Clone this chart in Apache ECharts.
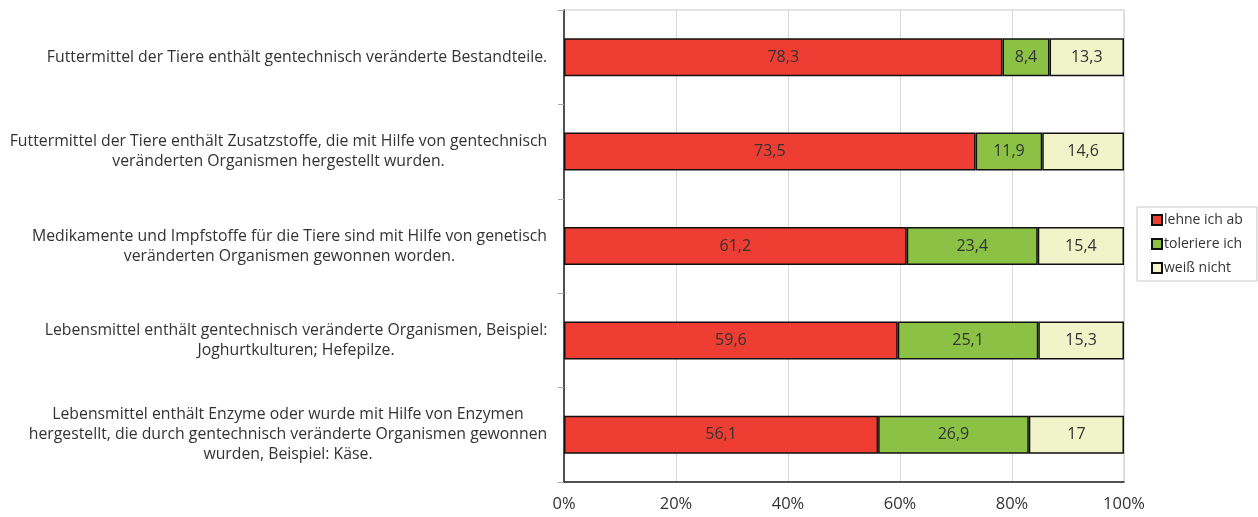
<!DOCTYPE html>
<html>
<head>
<meta charset="utf-8">
<script src="https://cdn.jsdelivr.net/npm/echarts@6/dist/echarts.min.js"></script>
<style>
  html, body { margin: 0; padding: 0; background: #fff; }
  #chart { width: 1258px; height: 517px; }
</style>
</head>
<body>
<div id="chart"></div>
<script>
// categories (top to bottom)
const categories = [
  'Futtermittel der Tiere enthält gentechnisch veränderte Bestandteile.',
  'Futtermittel der Tiere enthält Zusatzstoffe, die mit Hilfe von gentechnisch\nveränderten Organismen hergestellt wurden.',
  'Medikamente und Impfstoffe für die Tiere sind mit Hilfe von genetisch\nveränderten Organismen gewonnen worden.',
  'Lebensmittel enthält gentechnisch veränderte Organismen, Beispiel:\nJoghurtkulturen; Hefepilze.',
  'Lebensmittel enthält Enzyme oder wurde mit Hilfe von Enzymen\nhergestellt, die durch gentechnisch veränderte Organismen gewonnen\nwurden, Beispiel: Käse.'
]
const lehneAb = [78.3, 73.5, 61.2, 59.6, 56.1]
const toleriere = [8.4, 11.9, 23.4, 25.1, 26.9]
const weissNicht = [13.3, 14.6, 15.4, 15.3, 17]
const xTicks = [0, 20, 40, 60, 80, 100]

const chart = echarts.init(document.getElementById('chart'))
const font = '"Open Sans", "Noto Sans", sans-serif'
const labelSize = 15.8

// each label block is as wide as its longest line, lines centred inside
const ctx = document.createElement('canvas').getContext('2d')
ctx.font = labelSize + 'px ' + font
const rich = {}
categories.forEach((c, i) => {
  const w = Math.max(...c.split('\n').map(s => ctx.measureText(s).width))
  rich['l' + i] = {
    width: Math.ceil(w) + 1,
    align: 'center',
    fontSize: labelSize,
    lineHeight: 20,
    color: '#333',
    fontFamily: font
  }
})

function barSeries (name, data, color) {
  return {
    name,
    type: 'bar',
    stack: 'total',
    barWidth: 38,
    data,
    itemStyle: {
      color,
      borderColor: '#111',
      borderWidth: 1.5
    },
    label: {
      show: true,
      position: 'inside',
      color: '#333',
      fontSize: 16,
      fontFamily: font,
      formatter: p => String(p.value).replace('.', ',')
    }
  }
}

const option = {
  animation: false,
  textStyle: { fontFamily: font },
  grid: {
    left: 564,
    right: 134,
    top: 10,
    bottom: 35,
    show: true,
    borderColor: '#c8c8c8',
    borderWidth: 1
  },
  legend: {
    orient: 'vertical',
    left: 1137,
    top: 207,
    width: 120,
    padding: [6, 14, 6, 14],
    itemGap: 10,
    itemWidth: 10,
    itemHeight: 10,
    borderColor: '#c8c8c8',
    borderWidth: 1,
    icon: 'rect',
    textStyle: { fontSize: 14, color: '#333', padding: [0, 0, 0, -3] },
    data: ['lehne ich ab', 'toleriere ich', 'weiß nicht']
  },
  xAxis: {
    type: 'value',
    min: xTicks[0],
    max: xTicks[xTicks.length - 1],
    interval: 20,
    axisLine: { show: true, lineStyle: { color: '#222', width: 1.5 } },
    axisTick: { show: false },
    splitLine: { lineStyle: { color: '#d9d9d9' } },
    axisLabel: {
      color: '#333',
      fontSize: 16.5,
      margin: 14,
      formatter: v => v + '%'
    }
  },
  yAxis: {
    type: 'category',
    inverse: true,
    data: categories,
    axisLine: { show: true, lineStyle: { color: '#222', width: 1.5 } },
    axisTick: { show: true, length: 6, lineStyle: { color: '#aaa' } },
    axisLabel: {
      margin: 16,
      align: 'right',
      formatter: (v, i) => v.split('\n').map(s => '{l' + i + '|' + s + '}').join('\n'),
      rich
    }
  },
  series: [
    barSeries('lehne ich ab', lehneAb, '#ee3d32'),
    barSeries('toleriere ich', toleriere, '#8bc145'),
    barSeries('weiß nicht', weissNicht, '#f1f3c8')
  ]
}

chart.setOption(option)
</script>
</body>
</html>
